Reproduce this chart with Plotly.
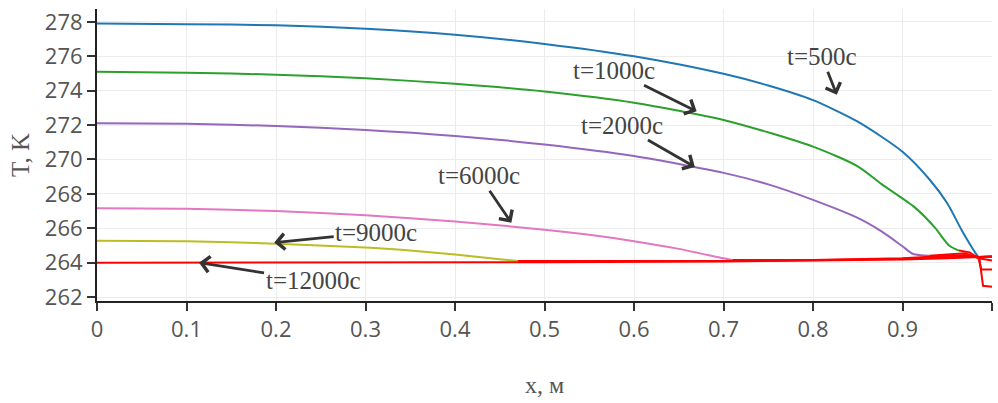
import plotly.graph_objects as go

# ---- data ----
x_500 = [0, 0.1, 0.2, 0.3, 0.4, 0.5, 0.6, 0.7, 0.75, 0.8, 0.85, 0.9, 0.93, 0.95, 0.966, 0.975, 0.981, 0.986]
T_500 = [277.9, 277.87, 277.8, 277.6, 277.25, 276.72, 276.0, 274.98, 274.3, 273.45, 272.2, 270.45, 268.85, 267.45, 265.9, 265.1, 264.6, 264.25]

x_1000 = [0, 0.1, 0.2, 0.3, 0.4, 0.5, 0.6, 0.7, 0.8, 0.85, 0.877, 0.914, 0.936, 0.952, 0.963]
T_1000 = [275.1, 275.05, 274.93, 274.72, 274.4, 273.95, 273.3, 272.3, 270.75, 269.6, 268.55, 267.2, 266.05, 265.0, 264.7]

x_2000 = [0, 0.1, 0.2, 0.3, 0.4, 0.5, 0.6, 0.7, 0.75, 0.8, 0.85, 0.877, 0.9, 0.912, 0.93]
T_2000 = [272.1, 272.07, 271.95, 271.72, 271.37, 270.87, 270.2, 269.22, 268.55, 267.65, 266.6, 265.8, 264.95, 264.5, 264.4]

x_6000 = [0, 0.1, 0.2, 0.3, 0.4, 0.5, 0.55, 0.6, 0.65, 0.7, 0.71]
T_6000 = [267.17, 267.14, 267.0, 266.75, 266.4, 265.92, 265.62, 265.25, 264.8, 264.25, 264.15]

x_9000 = [0, 0.1, 0.2, 0.3, 0.35, 0.4, 0.45, 0.47]
T_9000 = [265.28, 265.25, 265.1, 264.88, 264.7, 264.47, 264.2, 264.1]

# red (frozen-zone) parts of every profile
xr_12000 = [0, 0.3, 0.5, 0.7, 0.8, 0.9, 0.95, 0.97, 0.985, 1.0]
Tr_12000 = [264.0, 264.01, 264.03, 264.07, 264.11, 264.18, 264.25, 264.3, 264.33, 264.36]
xr_9000 = [0.47, 0.6, 0.7, 0.8, 0.9, 0.95, 0.975, 0.985, 1.0]
Tr_9000 = [264.1, 264.08, 264.1, 264.14, 264.22, 264.32, 264.4, 264.33, 264.36]
xr_6000 = [0.71, 0.8, 0.9, 0.95, 0.97, 0.985, 1.0]
Tr_6000 = [264.15, 264.16, 264.25, 264.38, 264.45, 264.33, 264.36]
xr_2000 = [0.93, 0.95, 0.97, 0.985, 1.0]
Tr_2000 = [264.4, 264.48, 264.55, 264.25, 264.13]
xr_1000 = [0.963, 0.975, 0.985, 0.988, 1.0]
Tr_1000 = [264.7, 264.6, 264.25, 263.6, 263.6]
xr_500 = [0.986, 0.99, 1.0]
Tr_500 = [264.2, 262.65, 262.6]

labels = ["t=500c", "t=1000c", "t=2000c", "t=6000c", "t=9000c", "t=12000c"]
label_x = [0.8266, 0.670, 0.668, 0.463, 0.198, 0.114]
label_T = [273.76, 272.8, 269.56, 266.32, 265.17, 264.0]

x_ticks = [0, 0.1, 0.2, 0.3, 0.4, 0.5, 0.6, 0.7, 0.8, 0.9, 1]
y_ticks = [262, 264, 266, 268, 270, 272, 274, 276, 278]

# ---- figure ----
fig = go.Figure()
curves = [
    (x_500, T_500, "#1f77b4"),
    (x_1000, T_1000, "#2ca02c"),
    (x_2000, T_2000, "#9467bd"),
    (x_6000, T_6000, "#e377c2"),
    (x_9000, T_9000, "#bcbd22"),
]
for xs, ts, c in curves:
    fig.add_trace(go.Scatter(x=xs, y=ts, mode="lines",
                             line=dict(color=c, width=2, shape="spline", smoothing=0.7),
                             showlegend=False))
for xs, ts in [(xr_500, Tr_500), (xr_1000, Tr_1000), (xr_2000, Tr_2000),
               (xr_6000, Tr_6000), (xr_9000, Tr_9000), (xr_12000, Tr_12000)]:
    fig.add_trace(go.Scatter(x=xs, y=ts, mode="lines", line=dict(color="#ff0000", width=2), showlegend=False))

offsets = [(-15, -38), (-83, -41), (-73, -42), (-32, -47), (102, -10), (114, 18)]
for lab, xa, ya, (ax, ay) in zip(labels, label_x, label_T, offsets):
    fig.add_annotation(x=xa, y=ya, xref="x", yref="y", text=lab, showarrow=True,
                       ax=ax, ay=ay, arrowhead=4, arrowsize=1.1, arrowwidth=2.8,
                       arrowcolor="#333333",
                       font=dict(family="Liberation Serif", size=25, color="#444444"))

axis_common = dict(showline=True, linecolor="#222222", linewidth=2, ticks="outside",
                   ticklen=8, tickwidth=2, tickcolor="#333333",
                   showgrid=True, gridcolor="#ececec", gridwidth=1, zeroline=False,
                   tickfont=dict(family="Open Sans", size=22, color="#555555"))

fig.update_layout(
    width=998, height=403,
    margin=dict(l=97, r=6, t=7, b=102),
    paper_bgcolor="white", plot_bgcolor="white",
    xaxis=dict(range=[0, 1], tickvals=x_ticks, ticktext=[f"{v:g}" for v in x_ticks],
               title=dict(text="x, м", font=dict(family="Liberation Serif", size=24, color="#555555"), standoff=34),
               **axis_common),
    yaxis=dict(range=[261.77, 278.75], tickvals=y_ticks,
               title=dict(text="T, K", font=dict(family="Liberation Serif", size=25, color="#555555"), standoff=8),
               **axis_common),
)

fig.write_html("out.html")
